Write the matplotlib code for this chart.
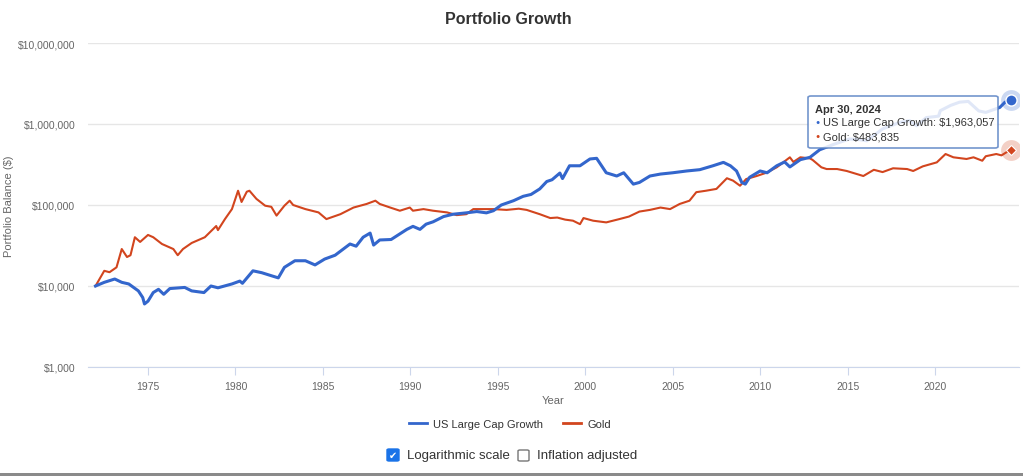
import numpy as np
import matplotlib
matplotlib.use("Agg")
import matplotlib.pyplot as plt
from matplotlib.patches import FancyBboxPatch, Rectangle
from matplotlib.lines import Line2D
from matplotlib.ticker import FixedLocator, FuncFormatter

plt.rcParams['font.family'] = ['Liberation Sans', 'DejaVu Sans']

# values (decimal year, balance $)
growth_years = [1972.0, 1972.5, 1973.1, 1973.5, 1973.9, 1974.45, 1974.7, 1974.8, 1975.0, 1975.3,
                1975.6, 1975.9, 1976.25, 1977.1, 1977.5, 1978.2, 1978.6, 1979.0, 1979.8, 1980.25,
                1980.4, 1981.0, 1981.5, 1982.05, 1982.45, 1982.8, 1983.4, 1984.0, 1984.55, 1985.1,
                1985.7, 1986.55, 1986.9, 1987.3, 1987.7, 1987.9, 1988.25, 1988.9, 1989.4, 1989.8,
                1990.15, 1990.55, 1990.9, 1991.3, 1991.9, 1992.45, 1993.2, 1993.8, 1994.35, 1994.75,
                1995.2, 1995.9, 1996.45, 1996.9, 1997.4, 1997.8, 1998.1, 1998.55, 1998.7, 1999.1,
                1999.7, 2000.27, 2000.65, 2001.2, 2001.8, 2002.2, 2002.75, 2003.1, 2003.7, 2004.3,
                2005.0, 2005.8, 2006.55, 2007.3, 2007.9, 2008.3, 2008.65, 2008.95, 2009.15, 2009.4,
                2010.0, 2010.4, 2010.95, 2011.4, 2011.7, 2012.3, 2012.85, 2013.4, 2014.2, 2015.1,
                2015.7, 2016.1, 2017.0, 2018.0, 2018.55, 2018.95, 2019.5, 2020.2, 2020.3, 2020.9,
                2021.4, 2021.9, 2022.5, 2022.9, 2023.7, 2024.0, 2024.33]
growth_vals = [10000, 11100, 12200, 11100, 10600, 8700, 7200, 6000, 6500, 8300,
               9100, 7900, 9300, 9600, 8700, 8300, 10000, 9500, 10600, 11500,
               10800, 15400, 14600, 13400, 12600, 17000, 20500, 20500, 18200, 21500,
               24000, 33000, 31000, 40000, 45000, 32000, 37000, 37500, 44000, 50000,
               54500, 50000, 58000, 62000, 72000, 77000, 80000, 83000, 80000, 85000,
               100000, 113000, 128000, 135000, 158000, 195000, 205000, 248000, 212000, 305000,
               305000, 370000, 377000, 250000, 228000, 250000, 181000, 190000, 228000, 241000,
               250000, 263000, 273000, 305000, 336000, 305000, 263000, 190000, 181000, 220000,
               263000, 250000, 305000, 340000, 295000, 363000, 388000, 480000, 560000, 653000,
               640000, 620000, 870000, 1050000, 1100000, 950000, 1200000, 1250000, 1460000, 1700000,
               1860000, 1900000, 1450000, 1390000, 1600000, 1860000, 1963057]

gold_years = [1972.0, 1972.5, 1972.8, 1973.2, 1973.5, 1973.8, 1974.0, 1974.25, 1974.55, 1975.0,
              1975.3, 1975.8, 1976.45, 1976.7, 1977.0, 1977.5, 1978.25, 1978.9, 1979.0, 1979.4,
              1979.8, 1980.15, 1980.35, 1980.65, 1980.8, 1981.2, 1981.7, 1982.05, 1982.35, 1982.8,
              1983.1, 1983.3, 1984.0, 1984.75, 1985.2, 1986.0, 1986.75, 1987.5, 1988.0, 1988.25,
              1988.85, 1989.4, 1989.97, 1990.15, 1990.75, 1991.3, 1992.1, 1992.65, 1993.2, 1993.6,
              1994.75, 1995.5, 1996.2, 1996.65, 1997.4, 1998.0, 1998.4, 1998.85, 1999.3, 1999.7,
              1999.9, 2000.45, 2001.2, 2001.95, 2002.5, 2003.1, 2003.7, 2004.3, 2004.85, 2005.4,
              2005.96, 2006.35, 2006.9, 2007.5, 2008.1, 2008.45, 2008.85, 2009.2, 2009.8, 2010.35,
              2010.95, 2011.7, 2011.9, 2012.3, 2012.85, 2013.0, 2013.5, 2013.8, 2014.4, 2014.95,
              2015.9, 2016.5, 2017.0, 2017.6, 2018.4, 2018.75, 2019.3, 2020.1, 2020.6, 2021.05,
              2021.8, 2022.2, 2022.7, 2022.9, 2023.5, 2023.8, 2024.33]
gold_vals = [10000, 15400, 14800, 17000, 28600, 22800, 24000, 40000, 35000, 42700,
             40000, 33000, 28600, 24000, 28600, 34000, 40000, 55000, 49000, 67000,
             89000, 150000, 109000, 146000, 150000, 119000, 98000, 95000, 74000, 98000,
             113000, 100000, 89000, 81000, 67000, 77000, 93000, 103000, 113000, 103000,
             93000, 85000, 93000, 85000, 89000, 85000, 81000, 75000, 77000, 89000,
             89000, 87000, 90000, 87000, 77000, 69000, 70000, 66000, 64000, 58000,
             69000, 64000, 61000, 67000, 72000, 83000, 87000, 93000, 89000, 103000,
             113000, 144000, 150000, 158000, 214000, 200000, 173000, 209000, 228000, 250000,
             292000, 388000, 340000, 388000, 376000, 360000, 292000, 278000, 278000, 263000,
             228000, 272000, 255000, 284000, 278000, 263000, 300000, 336000, 426000, 388000,
             370000, 388000, 352000, 400000, 426000, 410000, 483835]

series_names = ["US Large Cap Growth", "Gold"]
x_ticks = [1975, 1980, 1985, 1990, 1995, 2000, 2005, 2010, 2015, 2020]
y_ticks = [1e3, 1e4, 1e5, 1e6, 1e7]

blue = '#3366cc'
red = '#d2451e'
grid_c = '#e6e6e6'
axis_c = '#ccd6eb'
txt_c = '#666666'

fig = plt.figure(figsize=(10.23, 4.77), dpi=100)
ax = fig.add_axes([88/1023, 1-368/477, (1019-88)/1023, (368-44)/477])

ax.plot(growth_years, growth_vals, color=blue, lw=2.2, solid_joinstyle='round', zorder=3)
ax.plot(gold_years, gold_vals, color=red, lw=1.5, solid_joinstyle='round', zorder=2)

ax.set_yscale('log')
ax.set_ylim(1e3, 1e7)
ax.set_xlim(1971.57, 2024.8)

ax.yaxis.set_major_locator(FixedLocator(y_ticks))
ax.yaxis.set_minor_locator(FixedLocator([]))
ax.yaxis.set_major_formatter(FuncFormatter(lambda v, p: "${:,.0f}".format(v)))
ax.xaxis.set_major_locator(FixedLocator(x_ticks))
ax.grid(axis='y', color=grid_c, lw=1)
ax.set_axisbelow(True)
for s in ['top', 'right', 'left']:
    ax.spines[s].set_visible(False)
ax.spines['bottom'].set_color(axis_c)
ax.tick_params(axis='y', length=0, pad=9, labelsize=7.5, labelcolor=txt_c)
ax.tick_params(axis='x', length=6, color=axis_c, pad=4, labelsize=7.5, labelcolor=txt_c)
ax.set_xlabel("Year", fontsize=8, color=txt_c, labelpad=3)
ax.set_ylabel("Portfolio Balance ($)", fontsize=8, color=txt_c)
ax.yaxis.set_label_coords((14 - 88) / 931, 0.5)

# end markers with halo
ax.plot(growth_years[-1], growth_vals[-1], 'o', ms=15, color=blue, alpha=0.25, mec='none', zorder=4)
ax.plot(growth_years[-1], growth_vals[-1], 'o', ms=8, color=blue, mec='white', mew=1, zorder=5)
ax.plot(gold_years[-1], gold_vals[-1], 'o', ms=15, color=red, alpha=0.25, mec='none', zorder=4)
ax.plot(gold_years[-1], gold_vals[-1], 'D', ms=5, color=red, mec='white', mew=0.8, zorder=5)

fig.text(508/1023, 1-19/477, "Portfolio Growth", ha='center', va='center',
         fontsize=11.5, fontweight='bold', color='#333333')

# tooltip
tip = FancyBboxPatch((808/1023, 1-149/477), 190/1023, 52/477,
                     boxstyle="round,pad=0,rounding_size=0.003", transform=fig.transFigure,
                     fc='white', ec='#5b83c4', lw=1.2, alpha=0.85, zorder=10)
fig.add_artist(tip)
fig.text(815/1023, 1-110/477, "Apr 30, 2024", fontsize=8, fontweight='bold',
         color='#333333', va='center', zorder=11)
fig.text(815/1023, 1-123/477, "\u25cf", fontsize=5, color=blue, va='center', zorder=11)
fig.text(823/1023, 1-123/477, "%s: $1,963,057" % series_names[0], fontsize=8,
         color='#333333', va='center', zorder=11)
fig.text(815/1023, 1-137/477, "\u25cf", fontsize=5, color=red, va='center', zorder=11)
fig.text(823/1023, 1-137/477, "%s: $483,835" % series_names[1], fontsize=8,
         color='#333333', va='center', zorder=11)

# legend
handles = [Line2D([], [], color=blue, lw=2), Line2D([], [], color=red, lw=2)]
fig.legend(handles, series_names, loc='center', bbox_to_anchor=(510/1023, 1-425/477),
           ncol=2, frameon=False, fontsize=8, handlelength=1.6, handletextpad=0.6,
           columnspacing=1.8, labelcolor='#333333')

# checkboxes
fig.add_artist(FancyBboxPatch((387/1023, 1-462/477), 12/1023, 12/477,
                              boxstyle="round,pad=0,rounding_size=0.002", transform=fig.transFigure,
                              fc='#1a73e8', ec='#1a73e8', lw=1))
fig.text(393/1023, 1-456/477, "\u2714", fontsize=7, color='white', ha='center', va='center',
         family=['DejaVu Sans'])
fig.text(407/1023, 1-456/477, "Logarithmic scale", fontsize=9.5, color='#333333', va='center')
fig.add_artist(FancyBboxPatch((518/1023, 1-462/477), 11/1023, 11/477,
                              boxstyle="round,pad=0,rounding_size=0.002", transform=fig.transFigure,
                              fc='white', ec='#767676', lw=1))
fig.text(537/1023, 1-456/477, "Inflation adjusted", fontsize=9.5, color='#333333', va='center')

# bottom bar
fig.add_artist(Rectangle((0, 0), 1, 3/477, transform=fig.transFigure, fc='#8a8a8a', ec='none'))

fig.savefig("out.png", dpi=100)
